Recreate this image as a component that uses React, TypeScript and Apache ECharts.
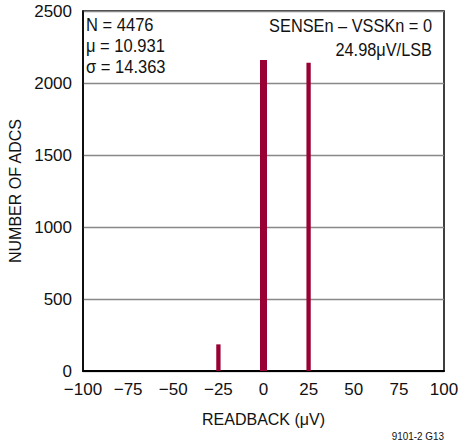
import React, { useEffect, useRef } from "react";
import * as echarts from "echarts";

// Data
const readbackUV: number[] = [-24.98, 0, 24.98];
const adcCounts: number[] = [185, 2160, 2140];
const yTicks: number[] = [0, 500, 1000, 1500, 2000, 2500];
const xTicks: number[] = [-100, -75, -50, -25, 0, 25, 50, 75, 100];
const statsLines: string[] = ["N = 4476", "μ = 10.931", "σ = 14.363"];
const condLines: string[] = ["SENSEn – VSSKn = 0", "24.98μV/LSB"];
const xTitle = "READBACK (μV)";
const yTitle = "NUMBER OF ADCS";
const footnote = "9101-2 G13";

const FONT = "'Liberation Sans', Arial, sans-serif";
const BAR = "#990033";
const INK = "#111";

export default function App() {
  const ref = useRef<HTMLDivElement>(null);
  useEffect(() => {
    if (!ref.current) return;
    const chart = echarts.init(ref.current, undefined, { renderer: "svg" });
    const data = readbackUV.map((x, i) => [x, adcCounts[i]]);
    chart.setOption({
      animation: false,
      backgroundColor: "#ffffff",
      grid: {
        left: 83,
        right: 15,
        top: 11,
        height: 360,
        show: true,
        borderColor: "#000",
        borderWidth: 1.5,
        containLabel: false,
        outerBoundsMode: "none",
      },
      xAxis: {
        type: "value",
        min: xTicks[0],
        max: xTicks[xTicks.length - 1],
        interval: 25,
        axisLine: { show: true, onZero: false, lineStyle: { color: "#000", width: 2 } },
        axisTick: { show: false },
        splitLine: { show: false },
        axisLabel: {
          color: INK,
          fontFamily: FONT,
          fontSize: 17,
          margin: 10,
          formatter: (v: number) => String(v).replace("-", "−"),
        },
        name: xTitle,
        nameLocation: "middle",
        nameGap: 40,
        nameTextStyle: { color: INK, fontFamily: FONT, fontSize: 16 },
      },
      yAxis: {
        type: "value",
        min: yTicks[0],
        max: yTicks[yTicks.length - 1],
        interval: 500,
        axisLine: { show: true, onZero: false, lineStyle: { color: "#000", width: 1.5 } },
        axisTick: { show: false },
        splitLine: { show: true, lineStyle: { color: "#888", width: 1.3 } },
        axisLabel: {
          color: INK,
          fontFamily: FONT,
          fontSize: 17,
          margin: 11,
          formatter: (v: number) => String(v),
        },
        name: yTitle,
        nameLocation: "middle",
        nameGap: 57,
        nameRotate: 90,
        nameTextStyle: { color: INK, fontFamily: FONT, fontSize: 16 },
      },
      series: [
        {
          type: "custom",
          data,
          clip: true,
          renderItem: (params: any, api: any) => {
            const x = api.value(0);
            const y = api.value(1);
            const top = api.coord([x, y]);
            const base = api.coord([x, 0]);
            const w = x === 0 ? 7 : 4.3;
            return {
              type: "rect",
              shape: { x: top[0] - w / 2, y: top[1], width: w, height: base[1] - top[1] },
              style: { fill: BAR },
            };
          },
        },
      ],
      graphic: [
        ...statsLines.map((t, i) => ({
          type: "text",
          x: 86,
          y: 15 + i * 21,
          scaleX: 0.87,
          style: { text: t, fill: INK, font: `19px ${FONT}`, textAlign: "left", textVerticalAlign: "top" },
        })),
        ...condLines.map((t, i) => ({
          type: "text",
          x: 432,
          y: 16 + i * 24,
          scaleX: 0.86,
          style: { text: t, fill: INK, font: `19px ${FONT}`, textAlign: "right", textVerticalAlign: "top" },
        })),
        {
          type: "text",
          x: 444,
          y: 431,
          scaleX: 0.9,
          style: { text: footnote, fill: INK, font: `11px ${FONT}`, textAlign: "right", textVerticalAlign: "top" },
        },
      ],
    });
    return () => chart.dispose();
  }, []);
  return (
    <div
      ref={ref}
      style={{ position: "fixed", left: 0, top: 0, width: 459, height: 446 }}
    />
  );
}
